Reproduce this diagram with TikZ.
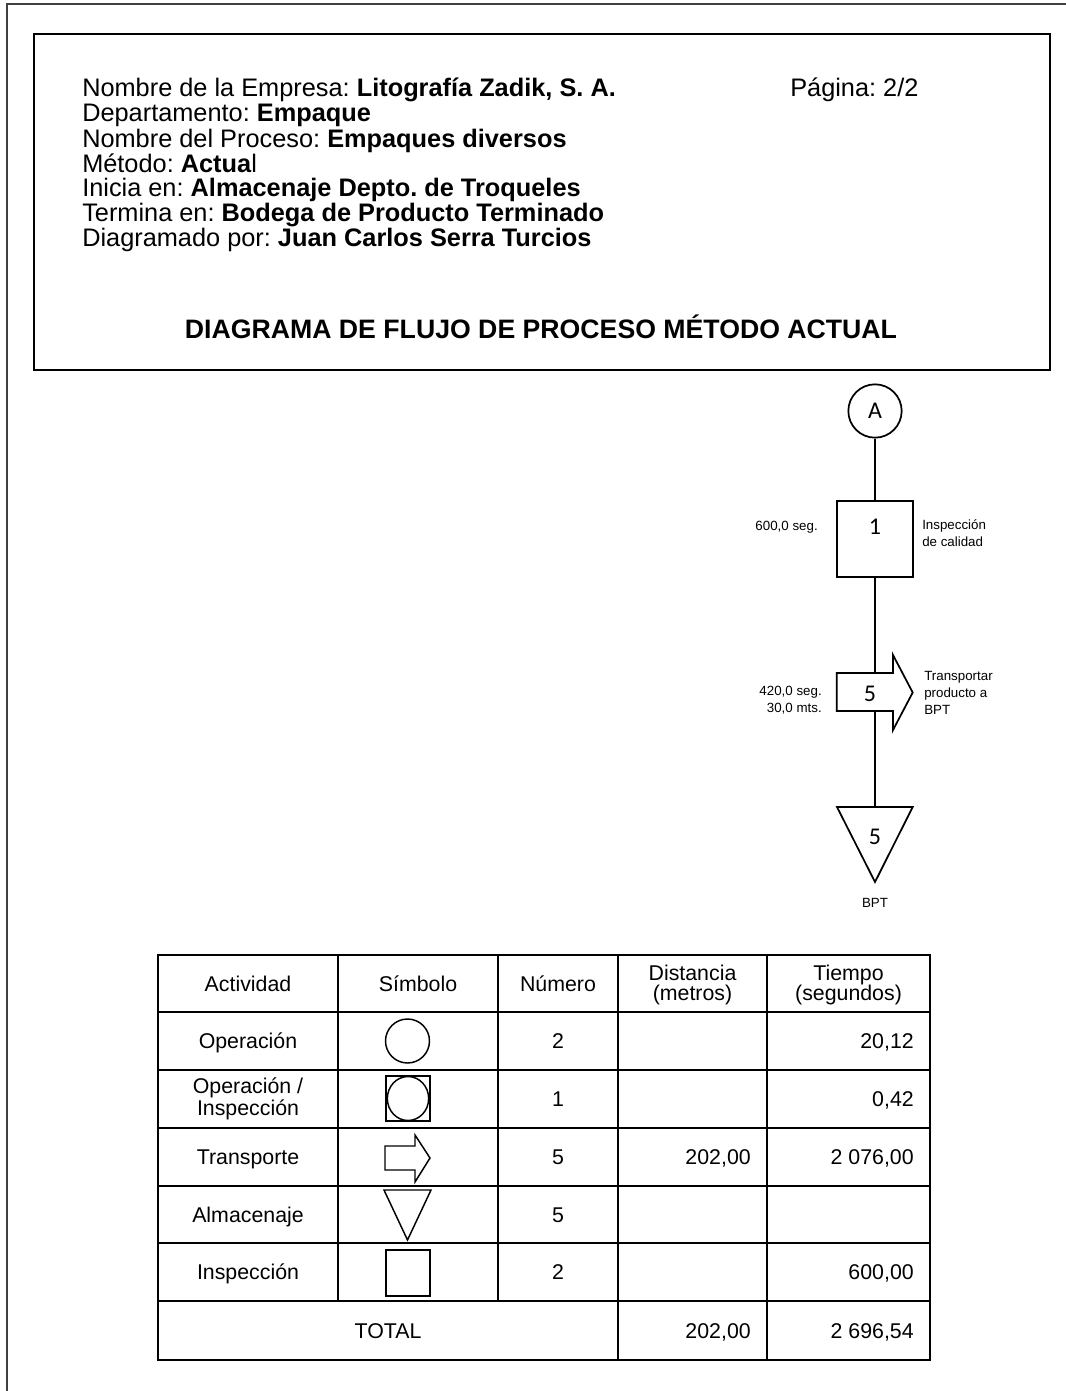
\documentclass[tikz,border=0pt]{standalone}
\usepackage{fontspec}
\setmainfont{Liberation Sans}
\newfontfamily\carl{Carlito}
\usetikzlibrary{calc}
\frenchspacing
\begin{document}
\begin{tikzpicture}[x=0.75pt,y=-0.75pt,
  hdr/.style={anchor=base west, font=\fontsize{19}{18.6}\selectfont, inner sep=0},
  cell/.style={font=\fontsize{16}{15}\selectfont, align=center, inner sep=0},
  cellb/.style={cell, anchor=base},
  cellr/.style={cell, anchor=base east},
  small/.style={font=\fontsize{10}{12.75}\selectfont, inner sep=0},
  num/.style={font=\carl\fontsize{18}{20}\selectfont, inner sep=0},
  ln/.style={line width=1.3pt},
  frm/.style={line width=1.5pt},
  sym/.style={line width=1.1pt}]
\useasboundingbox (0,0) rectangle (1066,1391);
% outer frame
\draw[line width=1.6pt, black!75] (7,1391) -- (7,4) -- (1066,4);
% header box
\node[draw, frm, anchor=north west, minimum width=762pt, minimum height=252pt, inner sep=0] (hbox) at (33,33) {};
\node[hdr] (h1) at (82,97) {Nombre de la Empresa: \textbf{Litografía Zadik, S. A.}};
\node[hdr] (pag) at (790,97) {Página: 2/2};
\node[hdr] (h2) at (82,122) {Departamento: \textbf{Empaque}};
\node[hdr] (h3) at (82,147) {Nombre del Proceso: \textbf{Empaques diversos}};
\node[hdr] (h4) at (82,172) {Método: \textbf{Actua}l};
\node[hdr] (h5) at (82,196) {Inicia en: \textbf{Almacenaje Depto. de Troqueles}};
\node[hdr] (h6) at (82,221) {Termina en: \textbf{Bodega de Producto Terminado}};
\node[hdr] (h7) at (82,246) {Diagramado por: \textbf{Juan Carlos Serra Turcios}};
\node[anchor=base, inner sep=0, font=\bfseries\fontsize{20}{18.6}\selectfont] (title) at (541,338) {DIAGRAMA DE FLUJO DE PROCESO MÉTODO ACTUAL};
% flow
\node[draw, circle, ln, minimum size=40pt, inner sep=0, num] (A) at (875,411) {A};
\node[draw, ln, minimum width=57pt, minimum height=57pt, inner sep=0] (insp) at (875,538.7) {};
\node[num] (n1) at (875,527) {1};
\draw[ln] (A) -- (insp);
\node[small, anchor=east] (t600) at (818,527) {600,0 seg.};
\node[small, anchor=west, align=left] (tinsp) at (922,533) {Inspección\\de calidad};
\coordinate (ttop) at (875,673);
\coordinate (tbot) at (875,711);
\draw[ln, line join=miter] (836.7,673) -- (893,673) -- (893,655) -- (912.7,692.5) -- (893,730) -- (893,711) -- (836.7,711) -- cycle;
\draw[ln] (insp.south) -- (ttop);
\node[num] (n5) at (870,694) {5};
\node[small, anchor=east, align=right] (t420) at (822,700) {420,0 seg.\\30,0 mts.};
\node[small, anchor=west, align=left] (ttrans) at (924,693) {Transportar\\producto a\\BPT};
\coordinate (atop) at (875,807);
\draw[ln, line join=miter] (837,807) -- (912.7,807) -- (875,882) -- cycle;
\draw[ln] (tbot) -- (atop);
\node[num] (n5b) at (875,837) {5};
\node[small] (bpt) at (875,903) {BPT};
% table
\draw[frm] (158,955) rectangle (930,1360);
\foreach \yy in {1012,1070,1128,1186,1243,1301} \draw[frm] (158,\yy) -- (930,\yy);
\foreach \xx in {338,498} \draw[frm] (\xx,955) -- (\xx,1301);
\foreach \xx in {618,767} \draw[frm] (\xx,955) -- (\xx,1360);
\node[cellb] (c11) at (248,991.5) {Actividad};
\node[cellb] (c12) at (418,991.5) {Símbolo};
\node[cellb] (c13) at (558,991.5) {Número};
\node[cell] (c14) at (692.5,985) {Distancia\\(metros)};
\node[cell] (c15) at (848.5,985) {Tiempo\\(segundos)};
\node[cellb] (r1) at (248,1048.5) {Operación};
\node[cell] (r2) at (248,1099) {Operación /\\Inspección};
\node[cellb] (r3) at (248,1164.5) {Transporte};
\node[cellb] (r4) at (248,1222) {Almacenaje};
\node[cellb] (r5) at (248,1279.5) {Inspección};
\node[cellb] (tot) at (388,1338) {TOTAL};
\node[cellb] (n1c) at (558,1048.5) {2};
\node[cellb] (n2c) at (558,1106.5) {1};
\node[cellb] (n3c) at (558,1164.5) {5};
\node[cellb] (n4c) at (558,1222) {5};
\node[cellb] (n5c) at (558,1279.5) {2};
\node[cellr] (d3) at (751,1164.5) {202,00};
\node[cellr] (dt) at (751,1338) {202,00};
\node[cellr] (t1) at (914,1048.5) {20,12};
\node[cellr] (t2) at (914,1106.5) {0,42};
\node[cellr] (t3) at (914,1164.5) {2 076,00};
\node[cellr] (t5) at (914,1279.5) {600,00};
\node[cellr] (tt) at (914,1338) {2 696,54};
% symbols
\draw[sym] (407.5,1041) circle [radius=16.5pt];
\draw[sym] (386,1076) rectangle (430,1121);
\draw[sym] (408,1098.5) ellipse [x radius=15.5pt, y radius=16.5pt];
\draw[sym] (385,1146) -- (415,1146) -- (415,1135) -- (430,1158) -- (415,1182) -- (415,1170) -- (385,1170) -- cycle;
\draw[sym] (384,1190) -- (431,1190) -- (407.5,1240) -- cycle;
\draw[sym] (386,1250) rectangle (430,1296);
\end{tikzpicture}
\end{document}
